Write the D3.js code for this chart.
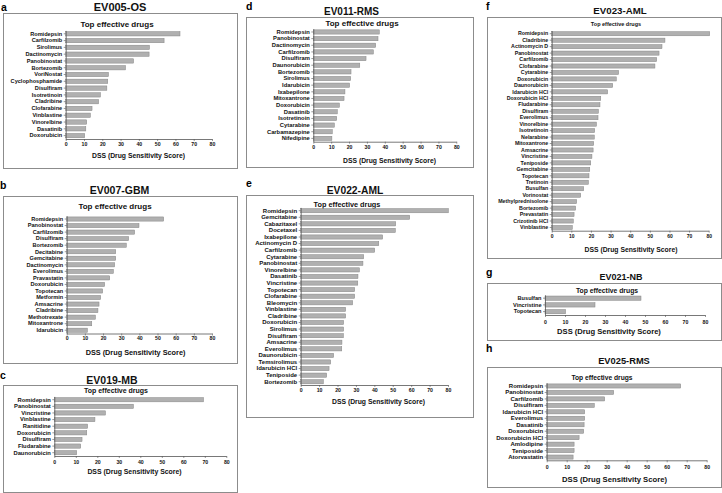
<!DOCTYPE html>
<html>
<head>
<meta charset="utf-8">
<script src="https://cdn.jsdelivr.net/npm/d3@7"></script>
<style>
  body { margin: 0; background: #fff; }
  svg { display: block; }
</style>
</head>
<body>
<div id="chart"></div>
<script>
const width = 722;
const height = 493;

const ticksX = [0, 10, 20, 30, 40, 50, 60, 70, 80];
const subtitle = "Top effective drugs";
const axisTitle = "DSS (Drug Sensitivity Score)";

// a - EV005-OS
const drugsA = ["Romidepsin", "Carfilzomib", "Sirolimus", "Dactinomycin", "Panobinostat", "Bortezomib",
  "VoriNostat", "Cyclophosphamide", "Disulfiram", "Isotretinoin", "Cladribine", "Clofarabine",
  "Vinblastine", "Vinorelbine", "Dasatinib", "Doxorubicin"];
const dssA = [62.5, 53.8, 45.8, 45.6, 37.1, 32.7, 23.4, 23.0, 22.5, 19.0, 18.0, 14.4, 13.5, 11.5, 11.0, 10.4];

// b - EV007-GBM
const drugsB = ["Romidepsin", "Panobinostat", "Carfilzomib", "Disulfiram", "Bortezomib", "Decitabine",
  "Gemcitabine", "Dactinomycin", "Everolimus", "Pravastatin", "Doxorubicin", "Topotecan", "Metformin",
  "Amsacrine", "Cladribine", "Methotrexate", "Mitoxantrone", "Idarubicin"];
const dssB = [53.4, 39.8, 37.4, 34.1, 32.8, 27.0, 27.0, 26.4, 25.7, 23.7, 20.9, 19.8, 18.7, 17.8, 17.2, 15.8, 13.8, 11.4];

// c - EV019-MB
const drugsC = ["Romidepsin", "Panobinostat", "Vincristine", "Vinblastine", "Ranitidine", "Doxorubicin",
  "Disulfiram", "Fludarabine", "Daunorubicin"];
const dssC = [69.4, 36.8, 23.8, 18.9, 15.5, 15.1, 12.9, 12.3, 10.4];

// d - EV011-RMS
const drugsD = ["Romidepsin", "Panobinostat", "Dactinomycin", "Carfilzomib", "Disulfiram", "Daunorubicin",
  "Bortezomib", "Sirolimus", "Idarubicin", "Ixabepilone", "Mitoxantrone", "Doxorubicin", "Dasatinib",
  "Isotretinoin", "Cytarabine", "Carbamazepine", "Nifedipine"];
const dssD = [36.9, 36.2, 34.9, 33.6, 29.5, 26.0, 21.1, 20.9, 20.3, 17.7, 17.2, 14.6, 13.4, 13.1, 11.8, 10.6, 10.4];

// e - EV022-AML
const drugsE = ["Romidepsin", "Gemcitabine", "Cabazitaxel", "Docetaxel", "Ixabepilone", "Actinomycin D",
  "Carfilzomib", "Cytarabine", "Panobinostat", "Vinorelbine", "Dasatinib", "Vincristine", "Topotecan",
  "Clofarabine", "Bleomycin", "Vinblastine", "Cladribine", "Doxorubicin", "Sirolimus", "Disulfiram",
  "Amsacrine", "Everolimus", "Daunorubicin", "Temsirolimus", "Idarubicin HCl", "Teniposide", "Bortezomib"];
const dssE = [80.2, 59.2, 51.6, 51.4, 44.5, 42.4, 40.2, 34.2, 33.8, 31.9, 31.1, 31.0, 29.3, 29.3, 28.2,
  24.4, 24.4, 23.3, 23.3, 23.2, 22.4, 22.3, 17.9, 16.3, 15.4, 14.1, 12.3];

// f - EV023-AML
const drugsF = ["Romidepsin", "Cladribine", "Actinomycin D", "Panobinostat", "Carfilzomib", "Clofarabine",
  "Cytarabine", "Doxorubicin", "Daunorubicin", "Idarubicin HCl", "Doxorubicin HCl", "Fludarabine",
  "Disulfiram", "Everolimus", "Vinorelbine", "Isotretinoin", "Nelarabine", "Mitoxantrone", "Amsacrine",
  "Vincristine", "Teniposide", "Gemcitabine", "Topotecan", "Tretinoin", "Busulfan", "Vorinostat",
  "Methylprednisolone", "Bortezomib", "Prevastatin", "Crizotinib HCl", "Vinblastine"];
const dssF = [80.5, 57.7, 56.2, 54.7, 53.5, 52.6, 34.1, 32.9, 31.1, 28.5, 25.0, 24.6, 23.8, 23.6, 22.8,
  21.9, 21.7, 21.4, 21.1, 20.5, 19.9, 19.4, 19.0, 18.7, 16.3, 14.8, 12.7, 12.2, 11.4, 11.0, 10.5];

// g - EV021-NB
const drugsG = ["Busulfan", "Vincristine", "Topotecan"];
const dssG = [48.0, 25.0, 10.3];

// h - EV025-RMS
const drugsH = ["Romidepsin", "Panobinostat", "Carfilzomib", "Disulfiram", "Idarubicin HCl", "Everolimus",
  "Dasatinib", "Doxorubicin", "Doxorubicin HCl", "Amlodipine", "Teniposide", "Atorvastatin"];
const dssH = [67.0, 33.5, 29.0, 23.8, 19.0, 19.0, 18.7, 18.5, 16.2, 13.7, 13.7, 13.2];

const panelLetters = ["a", "b", "c", "d", "e", "f", "g", "h"];
const panelTitles = ["EV005-OS", "EV007-GBM", "EV019-MB", "EV011-RMS", "EV022-AML", "EV023-AML", "EV021-NB", "EV025-RMS"];
const panelDrugs = [drugsA, drugsB, drugsC, drugsD, drugsE, drugsF, drugsG, drugsH];
const panelDss = [dssA, dssB, dssC, dssD, dssE, dssF, dssG, dssH];

// geometry of each panel (box, plot area, text baselines, font sizes)
const layout = [
  { bx: 3, by: 13, bw: 234, bh: 155, lx: 1, ly: 10.5, tx: 120, ty: 11, tf: 11, sx: 117, sy: 26.5, sf: 8,
    x0: 65.7, x1: 212, yTop: 30.4, yAx: 139, lf: 5.6, kf: 5.2, kty: 146, ax: 138.5, ay: 158, af: 6.8 },
  { bx: 3, by: 196, bw: 234, bh: 167, lx: 0, ly: 189, tx: 119.5, ty: 194, tf: 10.5, sx: 115, sy: 209, sf: 8,
    x0: 66.7, x1: 212, yTop: 215.75, yAx: 333.5, lf: 5.6, kf: 5.2, kty: 340, ax: 135.5, ay: 355, af: 7.3 },
  { bx: 3, by: 385, bw: 234, bh: 107, lx: 0, ly: 379, tx: 112, ty: 383.5, tf: 10.5, sx: 116, sy: 393, sf: 7,
    x0: 54.3, x1: 226.3, yTop: 396.4, yAx: 456, lf: 5.8, kf: 5.2, kty: 463.5, ax: 134.5, ay: 474, af: 6.9 },
  { bx: 246, by: 17, bw: 227, bh: 150, lx: 246, ly: 10, tx: 351.5, ty: 15, tf: 10, sx: 362, sy: 26, sf: 8,
    x0: 313.3, x1: 456.3, yTop: 28.65, yAx: 141.7, lf: 5.8, kf: 5.2, kty: 148.5, ax: 389.5, ay: 162.5, af: 6.8 },
  { bx: 246, by: 195, bw: 227, bh: 222, lx: 246, ly: 187, tx: 355, ty: 194, tf: 10.3, sx: 347, sy: 206.5, sf: 7.3,
    x0: 300.7, x1: 448, yTop: 207.4, yAx: 385, lf: 6.0, kf: 5.2, kty: 392, ax: 378.5, ay: 404, af: 6.8 },
  { bx: 487, by: 17, bw: 234, bh: 241, lx: 486, ly: 10, tx: 620, ty: 13.5, tf: 9.7, sx: 616, sy: 26, sf: 5.5,
    x0: 551.7, x1: 708.7, yTop: 30.5, yAx: 230.7, lf: 5.3, kf: 5.0, kty: 238, ax: 631, ay: 251.5, af: 6.8 },
  { bx: 487, by: 283, bw: 234, bh: 57, lx: 486, ly: 276, tx: 621, ty: 280, tf: 9, sx: 607, sy: 292.5, sf: 6.8,
    x0: 545, x1: 705, yTop: 294.8, yAx: 315, lf: 5.6, kf: 5.2, kty: 323.5, ax: 609, ay: 334, af: 7.6 },
  { bx: 487, by: 367, bw: 234, bh: 120, lx: 486, ly: 352, tx: 624, ty: 363.5, tf: 9.3, sx: 602, sy: 380, sf: 6.7,
    x0: 546.7, x1: 706.7, yTop: 382.75, yAx: 460.3, lf: 6.0, kf: 5.2, kty: 468.5, ax: 614.5, ay: 482, af: 7.7 }
];

const font = "'Liberation Sans', Arial, Helvetica, sans-serif";

const svg = d3.select("#chart")
  .append("svg")
  .attr("width", width)
  .attr("height", height)
  .style("font-family", font);

layout.forEach((p, i) => {
  const drugs = panelDrugs[i];
  const dss = panelDss[i];
  const g = svg.append("g").attr("class", "panel");

  g.append("rect")
    .attr("x", p.bx + 0.5)
    .attr("y", p.by + 0.5)
    .attr("width", p.bw)
    .attr("height", p.bh)
    .attr("fill", "none")
    .attr("stroke", "#8c8c8c")
    .attr("stroke-width", 1);

  g.append("text")
    .attr("x", p.lx)
    .attr("y", p.ly)
    .attr("font-size", 10.5)
    .attr("font-weight", "bold")
    .text(panelLetters[i]);

  g.append("text")
    .attr("x", p.tx)
    .attr("y", p.ty)
    .attr("text-anchor", "middle")
    .attr("font-size", p.tf)
    .attr("font-weight", "bold")
    .attr("fill", "#111")
    .text(panelTitles[i]);

  g.append("text")
    .attr("x", p.sx)
    .attr("y", p.sy)
    .attr("text-anchor", "middle")
    .attr("font-size", p.sf)
    .attr("font-weight", "bold")
    .attr("fill", "#111")
    .text(subtitle);

  const xScale = d3.scaleLinear().domain([0, 80]).range([p.x0, p.x1]);
  const yScale = d3.scaleBand()
    .domain(drugs)
    .range([p.yTop, p.yAx])
    .paddingInner(0.36)
    .paddingOuter(0.18);

  g.selectAll(".bar")
    .data(drugs)
    .enter()
    .append("rect")
    .attr("class", "bar")
    .attr("x", xScale(0))
    .attr("y", d => yScale(d))
    .attr("width", (d, k) => xScale(dss[k]) - xScale(0))
    .attr("height", yScale.bandwidth())
    .attr("fill", "#b0b0b0")
    .attr("stroke", "#858585")
    .attr("stroke-width", 0.5);

  const xAxis = g.append("g")
    .attr("transform", `translate(0, ${p.yAx})`)
    .call(d3.axisBottom(xScale).tickValues(ticksX).tickSize(2).tickSizeOuter(0).tickPadding(1.5));
  xAxis.selectAll("text")
    .attr("font-size", p.kf)
    .attr("font-weight", "bold")
    .attr("font-family", font)
    .attr("fill", "#111")
    .attr("dy", null)
    .attr("y", null)
    .attr("transform", `translate(0, ${p.kty - p.yAx})`);

  const yAxis = g.append("g")
    .attr("transform", `translate(${p.x0}, 0)`)
    .call(d3.axisLeft(yScale).tickSize(2).tickSizeOuter(0).tickPadding(1.5));
  yAxis.selectAll("text")
    .attr("font-size", p.lf)
    .attr("font-weight", "bold")
    .attr("font-family", font)
    .attr("fill", "#111");

  [xAxis, yAxis].forEach(ax => {
    ax.select(".domain").attr("stroke", "#555").attr("stroke-width", 0.8);
    ax.selectAll(".tick line").attr("stroke", "#555").attr("stroke-width", 0.6);
  });

  g.append("text")
    .attr("x", p.ax)
    .attr("y", p.ay)
    .attr("text-anchor", "middle")
    .attr("font-size", p.af)
    .attr("font-weight", "bold")
    .attr("fill", "#111")
    .text(axisTitle);
});
</script>
</body>
</html>
